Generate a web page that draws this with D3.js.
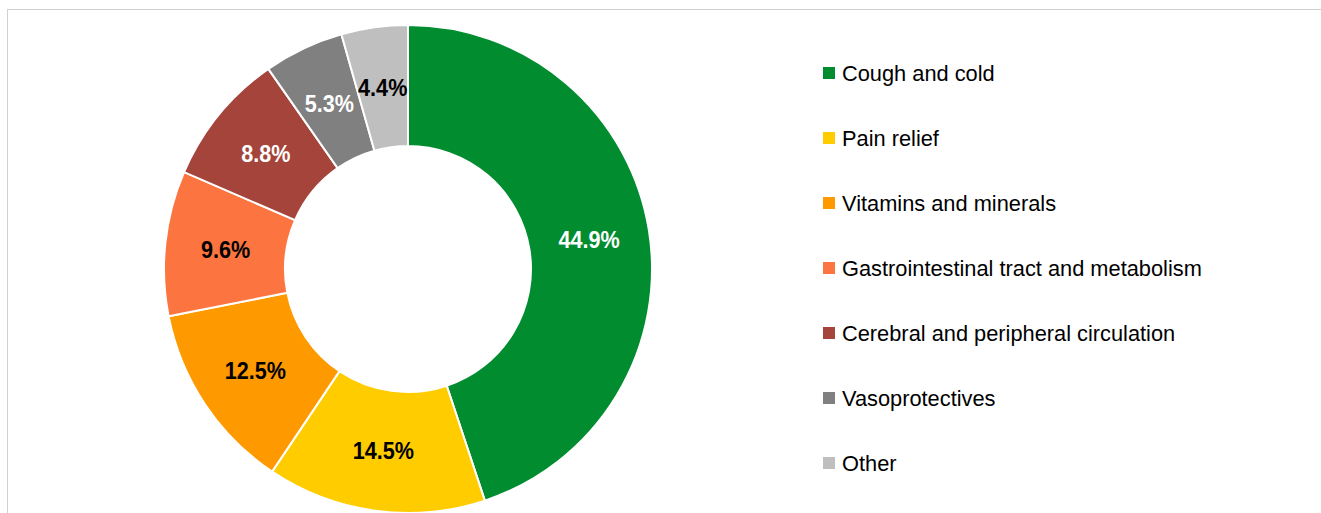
<!DOCTYPE html>
<html>
<head>
<meta charset="utf-8">
<script src="https://cdn.jsdelivr.net/npm/d3@7"></script>
<style>
  body { margin: 0; background: #fff; }
  svg { display: block; font-family: "Liberation Sans", Arial, sans-serif; }
</style>
</head>
<body>
<div id="chart"></div>
<script>
var categories = ["Cough and cold", "Pain relief", "Vitamins and minerals",
  "Gastrointestinal tract and metabolism", "Cerebral and peripheral circulation",
  "Vasoprotectives", "Other"];
var shares = [44.9, 14.5, 12.5, 9.6, 8.8, 5.3, 4.4];
var colorTheme = ["#008C2F", "#FFCC00", "#FF9900", "#FC7440", "#A4443A", "#808080", "#BFBFBF"];
var labelColors = ["#fff", "#000", "#000", "#000", "#fff", "#fff", "#000"];

var width = 1321, height = 513;
var cx = 408, cy = 269;
var outerR = 244, innerR = 123;

var svg = d3.select("#chart")
  .append("svg")
  .attr("width", width)
  .attr("height", height);

// frame
svg.append("rect")
  .attr("x", 7.5)
  .attr("y", 9.5)
  .attr("width", 1330)
  .attr("height", 520)
  .attr("fill", "none")
  .attr("stroke", "#d0d0d0")
  .attr("stroke-width", 1);

var data = categories.map(function(c, i) { return {name: c, value: shares[i], i: i}; });

var pie = d3.pie()
  .value(function(d) { return d.value; })
  .sort(null);

var arc = d3.arc()
  .innerRadius(innerR)
  .outerRadius(outerR);

var g = svg.append("g")
  .attr("transform", "translate(" + cx + "," + cy + ")");

var slices = g.selectAll("g.slice")
  .data(pie(data))
  .enter()
  .append("g")
  .attr("class", "slice");

slices.append("path")
  .attr("d", arc)
  .attr("fill", function(d) { return colorTheme[d.data.i]; })
  .attr("stroke", "#fff")
  .attr("stroke-width", 2);

slices.append("text")
  .attr("transform", function(d) { return "translate(" + arc.centroid(d) + ") scale(0.9,1)"; })
  .attr("text-anchor", "middle")
  .attr("dy", "0.36em")
  .style("font-size", "24px")
  .style("font-weight", "700")
  .attr("fill", function(d) { return labelColors[d.data.i]; })
  .text(function(d) { return d.data.value.toFixed(1) + "%"; });

// legend
var legend = svg.append("g")
  .selectAll("g")
  .data(data)
  .enter()
  .append("g")
  .attr("transform", function(d, i) { return "translate(823," + (73 + i * 65) + ")"; });

legend.append("rect")
  .attr("x", 0)
  .attr("y", -6)
  .attr("width", 12)
  .attr("height", 12)
  .attr("fill", function(d) { return colorTheme[d.i]; });

legend.append("text")
  .attr("x", 19)
  .attr("y", 0)
  .attr("dy", "0.35em")
  .style("font-size", "21.8px")
  .attr("fill", "#000")
  .text(function(d) { return d.name; });
</script>
</body>
</html>
